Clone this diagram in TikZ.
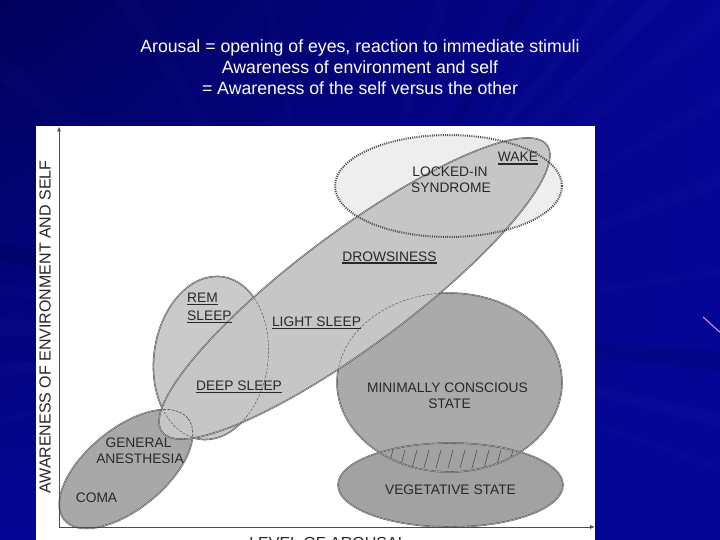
\documentclass[tikz,border=0pt]{standalone}
\usepackage{fontspec}
\setmainfont{Liberation Sans}
\usetikzlibrary{arrows.meta,shadings}
\definecolor{bgdark}{RGB}{0,0,92}
\definecolor{bgmid}{RGB}{6,6,150}
\definecolor{raylight}{RGB}{70,70,210}
\definecolor{lab}{RGB}{40,40,40}
\definecolor{fcoma}{RGB}{168,168,168}
\definecolor{frem}{RGB}{202,202,202}
\definecolor{fbig}{RGB}{198,198,198}
\definecolor{flock}{RGB}{238,238,238}
\definecolor{fmcs}{RGB}{170,170,170}
\definecolor{fveg}{RGB}{162,162,162}
\definecolor{edgec}{RGB}{80,80,80}
\definecolor{pinkline}{RGB}{225,150,215}
\newcommand\ulbox[1]{\setbox0=\hbox{#1}\rlap{\rule[-2.6pt]{\wd0}{1.1pt}}\box0}
\begin{document}
\begin{tikzpicture}[x=1pt,y=1pt,
 lbl/.style={inner sep=0pt, text=lab, font=\fontsize{13.8}{16}\selectfont, anchor=base},
 ttl/.style={inner sep=0pt, text=white, font=\fontsize{17.7}{21}\selectfont, anchor=base},
 outline/.style={draw=edgec, line width=0.55pt, double=white!70!gray, double distance=0.35pt},
 hiddenline/.style={draw=edgec, line width=0.45pt, dash pattern=on 2.5pt off 1.5pt},
 dotline/.style={draw=black!70, line width=2pt, dash pattern=on 1pt off 1.2pt},
 hatchline/.style={draw=edgec, line width=.6pt},
 axisline/.style={draw=black!70, line width=0.8pt, -{Latex[length=5pt,width=4pt]}},
 tbig/.style={shift={(354.5,-288.5)},rotate=36.7},
 trem/.style={shift={(211,-358)},rotate=-8},
 tcoma/.style={shift={(126,-469)},rotate=39.5},
 tlock/.style={shift={(448.5,-186)}},
 tmcs/.style={shift={(449.5,-382.5)}},
 tveg/.style={shift={(450.5,-485)}}]
\def\Ebig{(0,0) ellipse [x radius=240, y radius=57]}
\def\Erem{(0,0) ellipse [x radius=57, y radius=82]}
\def\Ecoma{(0,0) ellipse [x radius=80, y radius=40]}
\def\Elock{(0,0) ellipse [x radius=113.5, y radius=51]}
\def\Emcs{(0,0) ellipse [x radius=112.5, y radius=89.5]}
\def\Eveg{(0,0) ellipse [x radius=112.5, y radius=42]}
\useasboundingbox (0,0) rectangle (720,-540);
\clip (0,0) rectangle (720,-540);
% background
\shade[upper left=bgdark, upper right=bgmid, lower left=bgmid, lower right=bgmid] (0,0) rectangle (720,-540);
\foreach \a/\b/\o in {44/46/.06, 49/50.5/.05, 53/54/.04, 38/40/.04, 30/31.5/.03, 20/22/.03, 8/9/.03, -14/-12/.06, -20/-19/.04, 172/174/.04, 178/181/.06, 186/188/.05, 195/196/.03, 120/123/.03, 100/101.5/.03, 70/72/.03, 140/143/.03}
  \fill[raylight, opacity=\o] (330,-330) -- +(\a:1200) -- +(\b:1200) -- cycle;
\foreach \a/\b in {-6/-3, 58/60, 165/168}
  \fill[black, opacity=.08] (330,-330) -- +(\a:1200) -- +(\b:1200) -- cycle;
\draw[pinkline, line width=1pt] (703,-317) -- (722,-334);
% white panel
\fill[white] (36,-126) rectangle (595,-541);
% shapes
\fill[flock, tlock] \Elock;
\fill[fmcs, tmcs] \Emcs;
\fill[fveg, tveg] \Eveg;
\begin{scope}
  \clip[tmcs] \Emcs;
  \clip[tveg] \Eveg;
  \foreach \x in {340,352,...,560} \draw[hatchline] (\x,-468) -- (\x+5,-450);
\end{scope}
\draw[outline, tmcs] \Emcs;
\draw[outline, tveg] \Eveg;
\fill[fcoma, tcoma] \Ecoma;
\draw[outline, tcoma] \Ecoma;
\fill[frem, trem] \Erem;
\draw[outline, trem] \Erem;
\fill[fbig, tbig] \Ebig;
\draw[outline, tbig] \Ebig;
\begin{scope}
  \clip[tbig] \Ebig;
  \draw[hiddenline, tmcs] \Emcs;
  \draw[hiddenline, trem] \Erem;
  \draw[hiddenline, tcoma] \Ecoma;
\end{scope}
\begin{scope}
  \clip[trem] \Erem;
  \draw[hiddenline, tcoma] \Ecoma;
\end{scope}
\draw[dotline, tlock] \Elock;
% axes
\coordinate (origin) at (59,-527);
\coordinate (ytop) at (59,-126.5);
\coordinate (xend) at (595,-527);
\draw[axisline] (origin) -- (ytop);
\draw[axisline] (origin) -- (xend);
% labels
\node[lbl] (wake) at (518,-162) {\ulbox{WAKE}};
\node[lbl] (lock1) at (450,-177) {LOCKED-IN};
\node[lbl] (lock2) at (451,-193) {SYNDROME};
\node[lbl] (drow) at (389.5,-261) {\ulbox{DROWSINESS}};
\node[lbl, anchor=base west] (rem1) at (187,-302) {\ulbox{REM}};
\node[lbl, anchor=base west] (rem2) at (187,-320) {\ulbox{SLEEP}};
\node[lbl] (light) at (316.5,-326) {\ulbox{LIGHT SLEEP}};
\node[lbl] (deep) at (239,-390) {\ulbox{DEEP SLEEP}};
\node[lbl] (gen1) at (138.5,-447) {GENERAL};
\node[lbl] (gen2) at (140,-463) {ANESTHESIA};
\node[lbl] (coma) at (96.5,-502) {COMA};
\node[lbl] (mcs1) at (447.5,-392) {MINIMALLY CONSCIOUS};
\node[lbl] (mcs2) at (449.5,-408) {STATE};
\node[lbl] (veg) at (450.5,-494) {VEGETATIVE STATE};
\node[lbl, anchor=center, rotate=90, text=black!85, font=\fontsize{16}{18}\selectfont] (ylab) at (45,-327) {AWARENESS OF ENVIRONMENT AND SELF};
\node[lbl, text=black!85, font=\fontsize{16}{18}\selectfont] (xlab) at (328,-548.5) {LEVEL OF AROUSAL};
% title
\node[ttl] (t1) at (360,-52.5) {Arousal = opening of eyes, reaction to immediate stimuli};
\node[ttl] (t2) at (360,-73.5) {Awareness of environment and self};
\node[ttl] (t3) at (360,-94.5) {= Awareness of the self versus the other};
\end{tikzpicture}
\end{document}
